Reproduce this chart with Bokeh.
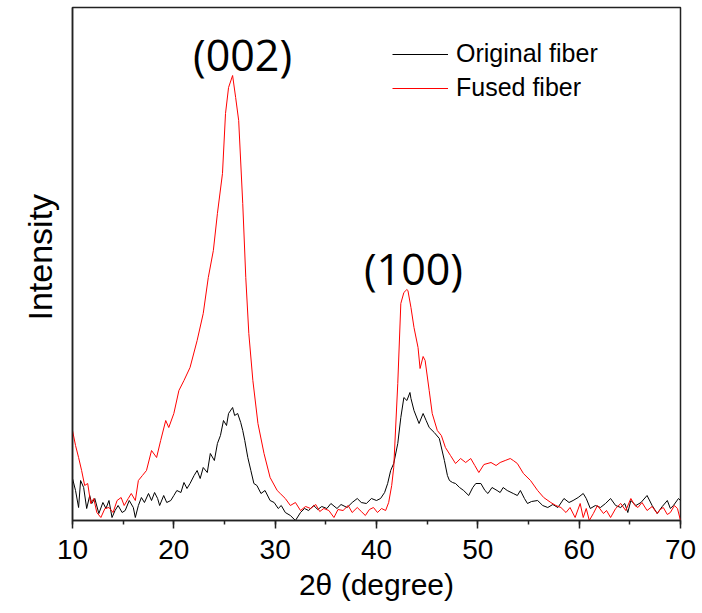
from bokeh.plotting import figure
from bokeh.models import Range1d, Legend, Label, SingleIntervalTicker, FixedTicker, Title
from bokeh.embed import file_html
from bokeh.resources import INLINE

# ---- data (intensity in arbitrary units) ----
two_theta_fused = [10.0, 10.3, 10.6, 10.9, 11.2, 11.5, 11.8, 12.1, 12.4, 12.8, 13.2, 13.6, 14.0, 14.4, 14.8,
                   15.1, 15.5, 15.8, 16.2, 16.5, 16.9, 17.3, 17.8, 18.3, 18.7, 19.2, 19.5, 20.0, 20.5, 21.0,
                   21.6, 22.3, 22.9, 23.4, 23.9, 24.3, 24.8, 25.1, 25.4, 25.8, 26.1, 26.4, 26.8, 27.1, 27.4,
                   27.8, 28.3, 28.9, 29.5, 30.2, 30.5, 31.0, 31.5, 32.0, 32.5, 33.0, 33.5, 34.0, 34.4, 34.8,
                   35.3, 35.8, 36.2, 36.7, 37.2, 37.6, 38.1, 38.5, 38.9, 39.3, 39.7, 40.1, 40.5, 40.9, 41.2,
                   41.5, 41.7, 42.1, 42.4, 42.7, 43.0, 43.1, 43.4, 43.7, 44.1, 44.3, 44.6, 44.8, 45.2, 45.5,
                   46.0, 46.4, 46.8, 47.3, 47.8, 48.3, 48.8, 49.3, 49.7, 50.1, 50.6, 51.3, 51.8, 52.2, 52.7,
                   53.2, 53.5, 53.9, 54.5, 55.2, 55.9, 56.5, 57.2, 57.7, 58.2, 58.7, 59.1, 59.6, 60.1, 60.4,
                   60.7, 61.0, 61.4, 61.8, 62.4, 62.7, 63.1, 63.6, 64.1, 64.6, 65.1, 65.5, 65.8, 66.2, 66.7,
                   67.2, 67.7, 68.0, 68.3, 68.7, 69.0, 69.4, 69.7, 70.0]
intensity_fused = [90, 75, 63, 50, 35, 37, 17, 22, 8, 3, 12, 13, 8, 20, 23,
                   15, 22, 27, 20, 40, 45, 50, 70, 63, 80, 100, 93, 107, 130, 140,
                   153, 180, 207, 243, 270, 307, 347, 407, 433, 445, 423, 400, 317, 243, 187,
                   140, 97, 67, 43, 30, 27, 22, 15, 18, 10, 14, 12, 16, 9, 12,
                   10, 3, 11, 10, 15, 8, 13, 9, 5, 11, 13, 8, 12, 10, 18,
                   35, 53, 137, 217, 228, 231, 230, 213, 193, 173, 152, 164, 160, 130, 107,
                   90, 85, 73, 65, 57, 62, 58, 62, 55, 48, 56, 58, 55, 58, 60,
                   62, 60, 57, 47, 40, 30, 23, 18, 15, 13, 8, 13, 3, 17, 3,
                   12, 0, 7, 15, 7, 10, 3, 12, 17, 10, 22, 15, 13, 18, 10,
                   14, 7, 11, 13, 6, 8, 15, 12, 0]

two_theta_orig = [10.0, 10.3, 10.6, 10.8, 11.1, 11.4, 11.7, 11.9, 12.2, 12.6, 13.0, 13.3, 13.6, 13.9, 14.2,
                  14.5, 14.9, 15.2, 15.6, 16.0, 16.2, 16.5, 16.8, 17.1, 17.5, 17.8, 18.1, 18.4, 18.6, 19.0,
                  19.3, 19.7, 20.0, 20.3, 20.7, 21.0, 21.3, 21.6, 22.0, 22.3, 22.6, 22.9, 23.3, 23.6, 24.0,
                  24.3, 24.6, 24.9, 25.2, 25.4, 25.8, 26.0, 26.3, 26.6, 26.8, 27.0, 27.3, 27.6, 27.9, 28.2,
                  28.6, 29.0, 29.5, 29.9, 30.3, 30.6, 31.0, 31.5, 32.0, 32.5, 32.9, 33.3, 33.8, 34.2, 34.6,
                  35.1, 35.5, 36.1, 36.5, 37.1, 37.6, 38.1, 38.5, 39.0, 39.5, 40.0, 40.4, 40.8, 41.1, 41.4,
                  41.7, 42.1, 42.4, 42.7, 43.0, 43.3, 43.4, 43.7, 44.2, 44.6, 44.9, 45.2, 45.7, 46.2, 46.7,
                  47.0, 47.2, 47.5, 47.8, 48.2, 48.6, 49.1, 49.5, 49.8, 50.3, 50.7, 51.0, 51.4, 51.9, 52.2,
                  52.5, 52.9, 53.5, 53.9, 54.2, 54.6, 54.9, 55.3, 55.9, 56.4, 56.9, 57.4, 57.9, 58.5, 59.0,
                  59.4, 59.9, 60.4, 60.7, 61.1, 61.6, 62.1, 62.6, 63.1, 63.6, 64.1, 64.5, 64.8, 65.1, 65.6,
                  66.1, 66.7, 67.2, 67.7, 68.2, 68.7, 69.0, 69.3, 69.8, 70.0]
intensity_orig = [42, 30, 13, 40, 33, 12, 25, 17, 22, 7, 18, 12, 20, 3, 10,
                  15, 8, 10, 20, 13, 3, 15, 23, 18, 27, 20, 28, 22, 15, 25,
                  18, 20, 25, 30, 28, 38, 32, 37, 45, 50, 42, 53, 48, 67, 60,
                  77, 85, 100, 95, 107, 113, 105, 107, 98, 90, 80, 63, 50, 37, 35,
                  27, 30, 20, 18, 12, 15, 8, 5, 0, 8, 12, 10, 15, 11, 14,
                  12, 17, 12, 16, 13, 18, 22, 18, 17, 22, 20, 22, 28, 37, 50,
                  57, 77, 103, 123, 120, 128, 122, 110, 97, 107, 100, 93, 88, 82, 60,
                  45, 40, 38, 37, 33, 30, 25, 33, 37, 37, 30, 27, 33, 30, 28,
                  33, 30, 27, 25, 30, 22, 17, 19, 20, 15, 13, 16, 13, 22, 18,
                  20, 23, 27, 22, 12, 15, 13, 17, 22, 15, 13, 17, 8, 20, 15,
                  18, 25, 15, 7, 14, 20, 12, 15, 22, 20]

series_names = ["Original fiber", "Fused fiber"]
peak_labels = ["(002)", "(100)"]

# ---- figure ----
p = figure(width=702, height=613, output_backend="svg", toolbar_location=None,
           x_range=Range1d(10, 70), y_range=Range1d(0, 513),
           min_border_left=72, min_border_right=22, min_border_top=7, min_border_bottom=93)
p.background_fill_color = "white"
p.border_fill_color = "white"
p.xgrid.visible = False
p.ygrid.visible = False
p.outline_line_color = "#222222"
p.outline_line_width = 1.5

r_orig = p.line(two_theta_orig, intensity_orig, line_color="black", line_width=1)
r_fused = p.line(two_theta_fused, intensity_fused, line_color="#ff0000", line_width=1)

# x axis
xa = p.xaxis[0]
xa.ticker = SingleIntervalTicker(interval=10, num_minor_ticks=2)
xa.axis_label = "2\u03b8 (degree)"
xa.axis_label_text_font = "Liberation Sans"
xa.axis_label_text_font_size = "30px"
xa.axis_label_text_font_style = "normal"
xa.axis_label_text_color = "black"
xa.axis_label_standoff = 6
xa.major_label_text_font = "Liberation Sans"
xa.major_label_text_font_size = "28px"
xa.major_label_text_color = "black"
xa.major_label_standoff = 11
xa.major_tick_out = 8
xa.major_tick_in = 0
xa.minor_tick_out = 4
xa.minor_tick_in = 0
xa.axis_line_color = "#222222"
xa.axis_line_width = 1.5
xa.major_tick_line_color = "#222222"
xa.major_tick_line_width = 1.5
xa.minor_tick_line_color = "#222222"
xa.minor_tick_line_width = 1.5

# y axis (no ticks)
ya = p.yaxis[0]
ya.ticker = FixedTicker(ticks=[])
ya.major_label_text_font_size = "0px"
ya.major_tick_out = 0
ya.minor_tick_out = 0
ya.major_label_standoff = 0
ya.axis_line_color = "#222222"
ya.axis_line_width = 1.5

# y axis title in the left panel, placed from the bottom end and lifted as in the reference
p.add_layout(Title(text="Intensity", align="left", offset=200, standoff=27,
                   text_font="Liberation Sans", text_font_size="34px",
                   text_font_style="normal", text_color="black"), "left")

legend = Legend(items=[(series_names[0], [r_orig]), (series_names[1], [r_fused])],
                location=(320, 418), border_line_color=None, background_fill_alpha=0,
                label_text_font="Liberation Sans", label_text_font_size="25px",
                label_text_color="black",
                glyph_width=56, glyph_height=28, label_height=28, spacing=5,
                padding=0, margin=0, label_standoff=8)
p.add_layout(legend)

p.add_layout(Label(x=26.78, y=466, text=peak_labels[0], text_font="Open Sans",
                   text_font_size="43px", text_align="center", text_baseline="middle",
                   text_color="black"))
p.add_layout(Label(x=43.65, y=252, text=peak_labels[1], text_font="Open Sans",
                   text_font_size="43px", text_align="center", text_baseline="middle",
                   text_color="black"))

open("out.html", "w").write(file_html(p, INLINE))
